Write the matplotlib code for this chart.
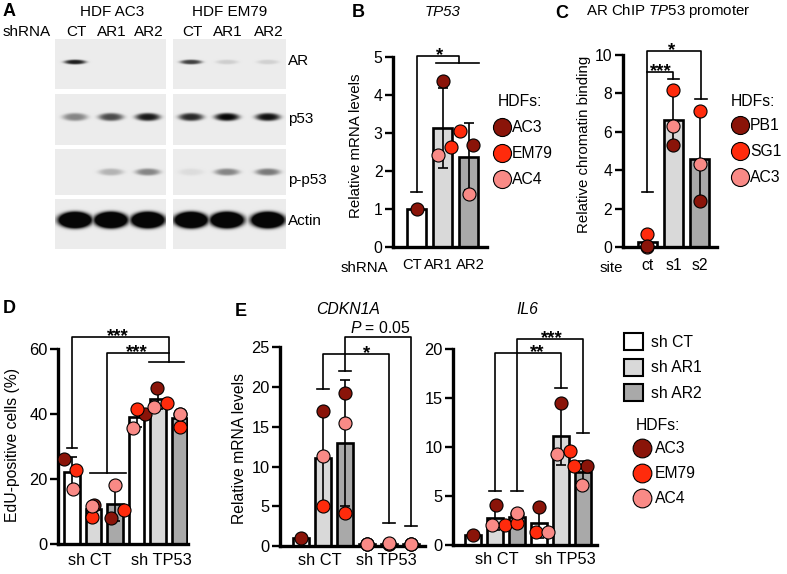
import numpy as np
import matplotlib.pyplot as plt
from matplotlib.patches import Rectangle

plt.rcParams['font.family'] = ['Liberation Sans', 'DejaVu Sans']
plt.rcParams['font.size'] = 10
plt.rcParams['mathtext.fontset'] = 'custom'
plt.rcParams['mathtext.rm'] = 'Liberation Sans'
plt.rcParams['mathtext.it'] = 'Liberation Sans:italic'

# ---------------- data ----------------
blot_lines = ['HDF AC3', 'HDF EM79']
lanes = ['CT', 'AR1', 'AR2']
blot_rows = ['AR', 'p53', 'p-p53', 'Actin']
# band darkness per lane, [AC3, EM79]
band_ar = [[0.9, 0.0, 0.0], [0.75, 0.13, 0.12]]
band_p53 = [[0.45, 0.7, 0.92], [0.85, 1.0, 0.95]]
band_pp53 = [[0.0, 0.25, 0.45], [0.07, 0.45, 0.5]]
band_actin = [[1, 1, 1], [1, 1, 1]]

hdf_b = ['AC3', 'EM79', 'AC4']
b_cats = ['CT', 'AR1', 'AR2']
b_dark = [1.0, 4.35, 2.68]
b_red = [1.0, 2.62, 3.06]
b_pink = [1.0, 2.42, 1.39]

hdf_c = ['PB1', 'SG1', 'AC3']
c_cats = ['ct', 's1', 's2']
c_dark = [0.05, 5.33, 2.43]
c_red = [0.69, 8.16, 7.1]
c_pink = [0.04, 6.32, 4.32]

groups = ['sh CT', 'sh TP53']
sh_labels = ['sh CT', 'sh AR1', 'sh AR2']
hdf_e = ['AC3', 'EM79', 'AC4']
d_dark = [26.2, 12.2, 8.2, 40.0, 48.0, 40.2]
d_red = [23.0, 8.3, 10.6, 41.5, 43.6, 36.2]
d_pink = [17.1, 11.9, 18.2, 35.9, 42.2, 40.0]

cdk_dark = [1.0, 17.0, 19.3, 0.2, 0.25, 0.2]
cdk_red = [1.0, 5.0, 4.1, 0.25, 0.2, 0.25]
cdk_pink = [1.0, 11.3, 15.5, 0.3, 0.35, 0.3]

il6_dark = [1.0, 4.08, 3.13, 3.9, 14.55, 8.07]
il6_red = [1.0, 2.03, 2.27, 1.35, 9.6, 8.07]
il6_pink = [1.0, 2.03, 3.3, 1.35, 9.26, 6.12]

# horizontal jitter of the dots (in bar spacings)
b_jit = [[0, 0, 0.18], [0, 0.33, -0.32], [0, -0.18, 0.02]]
c_jit = [[0, 0, 0], [0, 0, 0], [0, 0, 0]]
d_jit = [[-0.37, 0, -0.2, 0.4, -0.05, 0],
         [0.19, -0.05, 0.4, 0, 0.4, 0],
         [0.03, -0.05, 0, -0.17, -0.2, 0]]
cdk_jit = [[0] * 6, [0] * 6, [0] * 6]
il6_jit = [[0, 0.03, 0, 0, 0, 0.17],
           [0, 0.45, 0, -0.15, 0.41, -0.41],
           [0, -0.12, 0, 0.42, -0.17, -0.03]]

# ---------------- figure ----------------
W, H = 787, 574
fig = plt.figure(figsize=(W / 100, H / 100), dpi=100)
cv = fig.add_axes([0, 0, 1, 1])
cv.axis('off')

dot_colors = ['#8a1409', '#ff2b0c', '#f98a86']
fills = ['white', '#d9d9d9', '#a9a9a9']
fs_top = 10.8
fs_bot = 11.3
fs_blot = 11

# ---- A: western blots ----
panels_x = [(55, 166), (173, 286)]
lane_x = [[75, 111, 148], [191, 227, 268]]
rows = [(39, 89, 62, band_ar, 11, 2.4, 1.0),
        (94, 145, 117, band_p53, 12.5, 4.0, 1.0),
        (149, 195, 172, band_pp53, 12.5, 3.6, 1.0),
        (199, 249, 220, band_actin, 16.5, 8.0, 2.2)]
res = 3
for p, (x0, x1) in enumerate(panels_x):
    for y0, y1, by, inten, hw, hh, gain in rows:
        xs = np.linspace(x0, x1, int((x1 - x0) * res))
        ys = np.linspace(y0, y1, int((y1 - y0) * res))
        X, Y = np.meshgrid(xs, ys)
        dark = np.zeros_like(X)
        for cx, v in zip(lane_x[p], inten[p]):
            r = ((X - cx) / hw) ** 2 + ((Y - by) / hh) ** 2
            g = np.exp(-r ** 2)
            dark = np.maximum(dark, np.clip(gain * v * g, 0, 1))
        img = 0.925 - 0.9 * dark
        cv.imshow(img, cmap='gray', vmin=0, vmax=1, extent=(x0, x1, y1, y0),
                  aspect='auto', interpolation='bilinear')
cv.set_xlim(0, W)
cv.set_ylim(H, 0)

cv.text(3, 3, 'A', fontsize=13, fontweight='bold', va='top')
for name, lx in zip(blot_lines, lane_x):
    cv.text(np.mean(lx) + 1, 12.5, name, ha='center', va='center', fontsize=fs_blot)
    for lab, cx in zip(lanes, lx):
        cv.text(cx + 1, 32, lab, ha='center', va='center', fontsize=fs_blot)
cv.text(3, 32, 'shRNA', ha='left', va='center', fontsize=fs_blot)
for lab, y in zip(blot_rows, [61, 119, 180, 221]):
    cv.text(288, y, lab, ha='left', va='center', fontsize=fs_blot)


# ---- helpers ----
def make_axes(left, right, y0, ytop, c0, sp, ymax, yticks, fs):
    ax = fig.add_axes([left / W, 1 - y0 / H, (right - left) / W, (y0 - ytop) / H])
    ax.patch.set_visible(False)
    ax.set_xlim((left - c0) / sp, (right - c0) / sp)
    ax.set_ylim(0, ymax)
    ax.set_yticks(yticks)
    ax.spines[['top', 'right']].set_visible(False)
    ax.spines[['left', 'bottom']].set_linewidth(2.4)
    ax.tick_params(axis='y', width=1.7, length=5.5, pad=2, labelsize=fs)
    ax.tick_params(axis='x', length=0, labelsize=fs)
    return ax


def draw_bars(ax, pts, jit, order, bw):
    pts = np.array(pts, dtype=float)
    x = np.arange(pts.shape[1])
    mean = pts.mean(axis=0)
    sd = pts.std(axis=0, ddof=1)
    ax.bar(x, mean, width=bw, color=[fills[i % 3] for i in x],
           edgecolor='black', linewidth=1.9, zorder=2)
    for i in x:
        if sd[i] > 0:
            ax.errorbar(i, mean[i], yerr=sd[i], fmt='none', ecolor='black',
                        elinewidth=1.2, capsize=3.8, capthick=1.2, zorder=3)
    for rank, k in enumerate(order):
        for i in x:
            if np.ptp(pts[:, i]) == 0 and k != 0:
                continue
            ax.plot(i + jit[k][i], pts[k][i], 'o', ms=9.4, mfc=dot_colors[k],
                    mec='black', mew=0.8, zorder=5 + rank, clip_on=False)


def bracket(ax, xa, ya, xb, yb, ytop, ta=None, tb=None):
    kw = dict(color='black', lw=1.2, clip_on=False, zorder=4)
    ax.plot([xa, xa, xb, xb], [ya, ytop, ytop, yb], **kw)
    for t, y in ((ta, ya), (tb, yb)):
        if t is not None:
            ax.plot(t, [y, y], **kw)


def star(ax, x, y, s):
    ax.annotate(s, (x, y), xytext=(0, -3), textcoords='offset points',
                ha='center', va='baseline', fontsize=13.5, fontweight='bold',
                annotation_clip=False)


# ---- B ----
ax = make_axes(393, 487, 247.3, 56.7, 416.5, 26, 5, range(6), 11.3)
draw_bars(ax, [b_dark, b_red, b_pink], b_jit, [2, 1, 0], 0.75)
ax.set_xticks([-0.18, 0.83, 2.06], b_cats)
ax.tick_params(axis='x', pad=7.5, labelsize=10.6)
bracket(ax, 0, 1.46, 1.63, 4.83, 5.02, ta=[-0.21, 0.21], tb=[0.74, 2.4])
star(ax, 0.9, 5.02, '*')
cv.text(352, 4, 'B', fontsize=13, fontweight='bold', va='top')
cv.text(443, 11.5, 'TP53', style='italic', ha='center', va='center', fontsize=fs_top)
cv.text(356, 146, 'Relative mRNA levels', rotation=90, ha='center', va='center', fontsize=fs_top)
cv.text(364, 268.5, 'shRNA', ha='center', va='center', fontsize=fs_top)
cv.text(498, 102, 'HDFs:', ha='left', va='center', fontsize=fs_bot)
for k, y in enumerate([127, 153, 179]):
    cv.plot(502, y, 'o', ms=13, mfc=dot_colors[k], mec='black', mew=0.8)
    cv.text(512, y, hdf_b[k], ha='left', va='center', fontsize=fs_bot)

# ---- C ----
ax = make_axes(622.7, 716.7, 247.3, 55, 647.3, 26.1, 10, range(0, 11, 2), 11.3)
draw_bars(ax, [c_dark, c_red, c_pink], c_jit, [2, 1, 0], 0.73)
ax.set_xticks(range(3), c_cats)
ax.tick_params(axis='x', pad=7.5)
bracket(ax, 0, 2.86, 2.05, 7.71, 10.22, ta=[-0.21, 0.21], tb=[1.83, 2.27])
bracket(ax, 0, 9.13, 1.0, 8.75, 9.13, tb=[0.78, 1.22])
star(ax, 0.93, 10.22, '*')
star(ax, 0.51, 9.13, '***')
cv.text(555, 5, 'C', fontsize=13, fontweight='bold', va='top')
cv.text(668, 11.5, r'AR ChIP $\mathit{TP53}$ promoter', ha='center', va='center', fontsize=fs_top)
cv.text(584, 144, 'Relative chromatin binding', rotation=90, ha='center', va='center', fontsize=fs_top)
cv.text(611, 268.5, 'site', ha='center', va='center', fontsize=fs_top)
cv.text(731, 102, 'HDFs:', ha='left', va='center', fontsize=fs_bot)
for k, y in enumerate([125, 151, 177]):
    cv.plot(740, y, 'o', ms=13, mfc=dot_colors[k], mec='black', mew=0.8)
    cv.text(750, y, hdf_c[k], ha='left', va='center', fontsize=fs_bot)

# ---- D ----
ax = make_axes(58.3, 188, 544.3, 349.3, 72, 21.5, 60, range(0, 61, 20), 11.8)
draw_bars(ax, [d_dark, d_red, d_pink], d_jit, [0, 1, 2], 0.74)
ax.set_xticks([0.85, 4.15], groups)
ax.tick_params(axis='x', pad=6)
bracket(ax, 0, 29.5, 4.51, 56, 63.7, ta=[-0.25, 0.25], tb=[3.58, 5.22])
bracket(ax, 1.64, 21.8, 4.51, 58.8, 58.8, ta=[0.84, 2.51])
star(ax, 2.14, 63.7, '***')
star(ax, 3.0, 58.8, '***')
cv.text(3, 300, 'D', fontsize=13, fontweight='bold', va='top')
cv.text(13, 445, 'EdU-positive cells (%)', rotation=90, ha='center', va='center', fontsize=fs_bot)

# ---- E: CDKN1A ----
ax = make_axes(280, 425, 546, 347.3, 300.7, 22.05, 25, range(0, 26, 5), 11.8)
draw_bars(ax, [cdk_dark, cdk_red, cdk_pink], cdk_jit, [0, 1, 2], 0.71)
ax.set_xticks([0.88, 3.9], groups)
ax.tick_params(axis='x', pad=5)
bracket(ax, 1, 19.8, 4, 2.85, 24.2, ta=[0.73, 1.27], tb=[3.73, 4.27])
bracket(ax, 2, 22.0, 5, 2.5, 26.3, ta=[1.73, 2.27], tb=[4.73, 5.27])
star(ax, 3.0, 24.2, '*')
ax.annotate(r'$\mathit{P}$ = 0.05', (3.6, 26.3), xytext=(0, 2.6), textcoords='offset points',
            ha='center', va='baseline', fontsize=fs_bot, annotation_clip=False)
cv.text(235, 303, 'E', fontsize=13, fontweight='bold', va='top')
cv.text(348, 309.5, 'CDKN1A', style='italic', ha='center', va='center', fontsize=fs_bot)
cv.text(240, 448, 'Relative mRNA levels', rotation=90, ha='center', va='center', fontsize=fs_bot)

# ---- E: IL6 ----
ax = make_axes(453, 597.3, 544.9, 349.3, 473, 22, 20, range(0, 21, 5), 11.8)
draw_bars(ax, [il6_dark, il6_red, il6_pink], il6_jit, [0, 1, 2], 0.71)
ax.set_xticks([1.08, 4.18], groups)
ax.tick_params(axis='x', pad=5)
bracket(ax, 1, 5.54, 4, 16.0, 19.6, ta=[0.73, 1.27], tb=[3.73, 4.27])
bracket(ax, 2, 5.54, 5, 11.47, 21.1, ta=[1.73, 2.27], tb=[4.73, 5.27])
star(ax, 3.58, 21.1, '***')
star(ax, 2.9, 19.6, '**')
cv.text(527, 309.5, 'IL6', style='italic', ha='center', va='center', fontsize=fs_bot)

# ---- E legend ----
for k, y in enumerate([333, 358.5, 384]):
    cv.add_patch(Rectangle((624, y), 18.5, 17, facecolor=fills[k], edgecolor='black', lw=1.5))
    cv.text(651, y + 9.5, sh_labels[k], ha='left', va='center', fontsize=fs_bot)
cv.text(636, 426, 'HDFs:', ha='left', va='center', fontsize=fs_bot)
for k, y in enumerate([448, 473, 498]):
    cv.plot(642, y, 'o', ms=13.5, mfc=dot_colors[k], mec='black', mew=0.8)
    cv.text(655, y + 0.5, hdf_e[k], ha='left', va='center', fontsize=fs_bot)

fig.savefig('out.png', dpi=100)
